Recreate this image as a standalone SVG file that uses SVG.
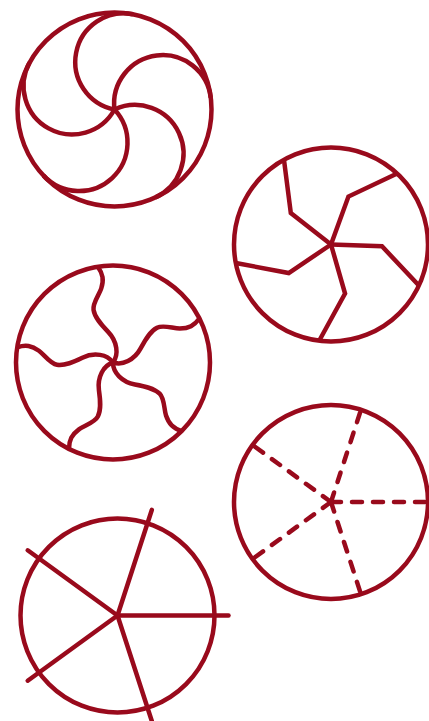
<svg xmlns="http://www.w3.org/2000/svg" width="429" height="721" viewBox="0 0 429 721">
<style>
.s{fill:none;stroke:#990a1c;stroke-width:4.5}
.d{stroke-dasharray:10 11;stroke-linecap:round}
.r{stroke-linecap:round}
</style>
<defs>
<path id="spiralArm" d="M0,0 A48.5,48.5 0 0 1 97,0"/>
<path id="bentArm" d="M0,0 L50.97,1.78 L87.91,40.99"/>
<path id="waveArm" d="M0,0 C3,3 8,5.5 14,5.5 C20,5.5 26,3.5 31,0 C39,-5.6 47,-11 55,-11 C62,-11 69,-3 75,0 C79,2 82,3 86,3 C90,3 94,1.5 97,0"/>
<line id="dashSpoke" x1="0" y1="0" x2="97" y2="0"/>
<line id="longSpoke" x1="0" y1="0" x2="111" y2="0"/>
</defs>
<rect width="429" height="721" fill="#ffffff"/>
<g id="spiral" class="s" transform="translate(114.5,109.5)">
<circle cx="0" cy="0" r="97"/>
<use href="#spiralArm" transform="rotate(-79)"/>
<use href="#spiralArm" transform="rotate(-7)"/>
<use href="#spiralArm" transform="rotate(65)"/>
<use href="#spiralArm" transform="rotate(137)"/>
<use href="#spiralArm" transform="rotate(209)"/>
</g>
<g id="bent" class="s" transform="translate(331,244.5)">
<circle cx="0" cy="0" r="97"/>
<use href="#bentArm"/>
<use href="#bentArm" transform="rotate(72)"/>
<use href="#bentArm" transform="rotate(144)"/>
<use href="#bentArm" transform="rotate(216)"/>
<use href="#bentArm" transform="rotate(288)"/>
</g>
<g id="wavy" class="s" transform="translate(113,362.5)">
<circle cx="0" cy="0" r="97"/>
<use href="#waveArm" transform="rotate(45)"/>
<use href="#waveArm" transform="rotate(117)"/>
<use href="#waveArm" transform="rotate(189)"/>
<use href="#waveArm" transform="rotate(261)"/>
<use href="#waveArm" transform="rotate(333)"/>
</g>
<g id="dashed" class="s" transform="translate(331,502)">
<circle cx="0" cy="0" r="97"/>
<g class="d">
<use href="#dashSpoke"/>
<use href="#dashSpoke" transform="rotate(72)"/>
<use href="#dashSpoke" transform="rotate(144)"/>
<use href="#dashSpoke" transform="rotate(216)"/>
<use href="#dashSpoke" transform="rotate(288)"/>
</g>
</g>
<g id="straight" class="s" transform="translate(117.5,615.5)">
<circle cx="0" cy="0" r="97"/>
<g class="r">
<use href="#longSpoke"/>
<use href="#longSpoke" transform="rotate(72)"/>
<use href="#longSpoke" transform="rotate(144)"/>
<use href="#longSpoke" transform="rotate(216)"/>
<use href="#longSpoke" transform="rotate(288)"/>
</g>
</g>
</svg>
